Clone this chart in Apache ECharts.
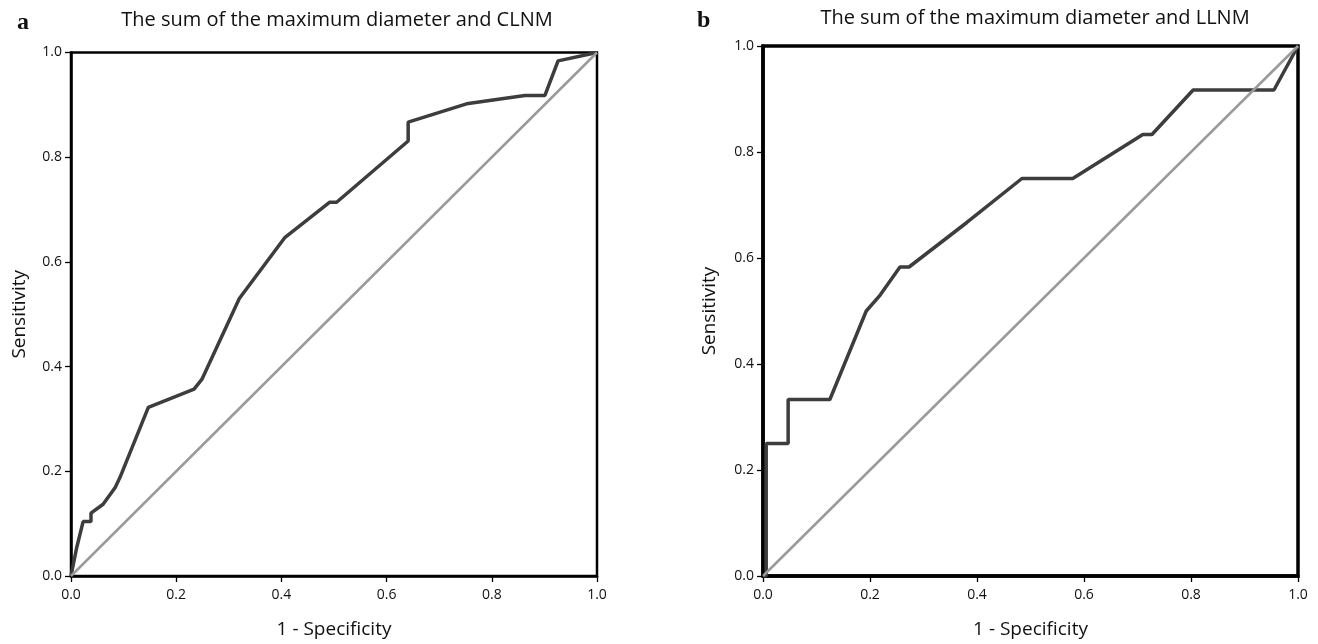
<!DOCTYPE html>
<html lang="en">
<head>
    <meta charset="UTF-8">
    <title>ROC curves</title>
    <script src="https://cdn.jsdelivr.net/npm/echarts@6/dist/echarts.min.js"></script>
    <style>
        html, body { margin: 0; padding: 0; background: #fff; }
        #chart { width: 1318px; height: 644px; }
    </style>
</head>
<body>
    <div id="chart"></div>
    <script>
        // ROC curve a: CLNM
        var clnmX = [0, 0.011, 0.023, 0.038, 0.038, 0.061, 0.084, 0.093, 0.147, 0.234, 0.249, 0.320, 0.407, 0.492, 0.505, 0.641, 0.641, 0.752, 0.863, 0.901, 0.926, 1];
        var clnmY = [0, 0.055, 0.104, 0.104, 0.120, 0.137, 0.169, 0.188, 0.322, 0.357, 0.376, 0.530, 0.647, 0.714, 0.714, 0.831, 0.867, 0.902, 0.918, 0.918, 0.984, 1];
        // ROC curve b: LLNM
        var llnmX = [0, 0.006, 0.006, 0.047, 0.047, 0.125, 0.193, 0.219, 0.256, 0.273, 0.381, 0.484, 0.579, 0.710, 0.727, 0.804, 0.955, 1];
        var llnmY = [0, 0, 0.25, 0.25, 0.333, 0.333, 0.5, 0.53, 0.583, 0.583, 0.667, 0.75, 0.75, 0.833, 0.833, 0.917, 0.917, 1];
        var refX = [0, 1];
        var refY = [0, 1];
        var ticks = [0, 0.2, 0.4, 0.6, 0.8, 1.0];

        function pairs(xs, ys) {
            return xs.map(function (x, i) { return [x, ys[i]]; });
        }

        var font = 'Open Sans';
        var labelStyle = { fontFamily: font, fontSize: 14, color: '#111', formatter: function (v) { return v.toFixed(1); } };

        function makeAxis(type, idx, name, gap, width) {
            return {
                type: 'value',
                gridIndex: idx,
                min: ticks[0],
                max: ticks[ticks.length - 1],
                interval: 0.2,
                name: name,
                nameLocation: 'middle',
                nameGap: gap,
                nameTextStyle: { fontFamily: font, fontSize: 19, color: '#111' },
                axisLine: { show: true, lineStyle: { color: '#000', width: width } },
                axisTick: { show: true, inside: false, length: 6, lineStyle: { color: '#000', width: 1.3 } },
                axisLabel: Object.assign({ margin: type === 'x' ? 12 : 9 }, labelStyle),
                splitLine: { show: false }
            };
        }

        var chart = echarts.init(document.getElementById('chart'));
        var option = {
            animation: false,
            backgroundColor: '#fff',
            title: [
                { text: 'The sum of the maximum diameter and CLNM', left: 332, top: 5, textAlign: 'center',
                  textStyle: { fontFamily: font, fontSize: 20, fontWeight: 'normal', color: '#111' } },
                { text: 'The sum of the maximum diameter and LLNM', left: 1030, top: 3, textAlign: 'center',
                  textStyle: { fontFamily: font, fontSize: 20, fontWeight: 'normal', color: '#111' } },
                { text: 'a', left: 12, top: 6,
                  textStyle: { fontFamily: 'Liberation Serif', fontSize: 24, fontWeight: 'bold', color: '#111' } },
                { text: 'b', left: 692, top: 4,
                  textStyle: { fontFamily: 'Liberation Serif', fontSize: 24, fontWeight: 'bold', color: '#111' } }
            ],
            grid: [
                { left: 71, top: 52.5, width: 526, height: 526.5, show: true, borderColor: '#000', borderWidth: 2.5, backgroundColor: 'transparent' },
                { left: 763, top: 46, width: 535, height: 533, show: true, borderColor: '#000', borderWidth: 3.5, backgroundColor: 'transparent' }
            ],
            xAxis: [
                makeAxis('x', 0, '1 - Specificity', 44, 2.5),
                makeAxis('x', 1, '1 - Specificity', 44, 3.5)
            ],
            yAxis: [
                makeAxis('y', 0, 'Sensitivity', 42, 2.5),
                makeAxis('y', 1, 'Sensitivity', 44, 3.5)
            ],
            series: [
                { type: 'line', xAxisIndex: 0, yAxisIndex: 0, data: pairs(clnmX, clnmY), showSymbol: false, symbol: 'none',
                  lineStyle: { color: '#3d3d3d', width: 3.5 }, z: 2 },
                { type: 'line', xAxisIndex: 0, yAxisIndex: 0, data: pairs(refX, refY), showSymbol: false, symbol: 'none',
                  lineStyle: { color: '#9a9a9a', width: 2.5 }, z: 3 },
                { type: 'line', xAxisIndex: 1, yAxisIndex: 1, data: pairs(llnmX, llnmY), showSymbol: false, symbol: 'none',
                  lineStyle: { color: '#3d3d3d', width: 3.5 }, z: 2 },
                { type: 'line', xAxisIndex: 1, yAxisIndex: 1, data: pairs(refX, refY), showSymbol: false, symbol: 'none',
                  lineStyle: { color: '#9a9a9a', width: 2.5 }, z: 3 }
            ]
        };
        chart.setOption(option);
    </script>
</body>
</html>
